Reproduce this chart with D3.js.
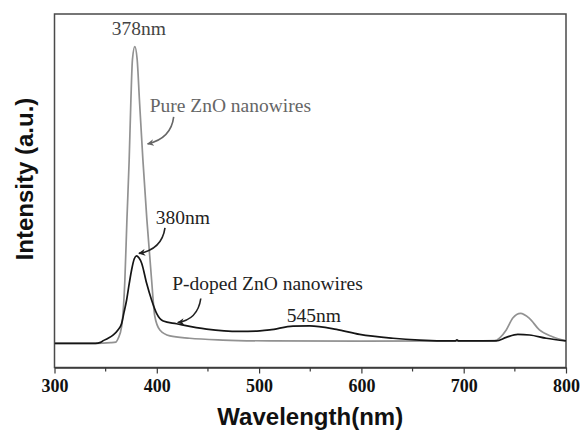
<!DOCTYPE html>
<html>
<head>
<meta charset="utf-8">
<script src="https://cdn.jsdelivr.net/npm/d3@7"></script>
<style>
  body { margin: 0; background: #fff; }
  svg { display: block; }
</style>
</head>
<body>
<svg id="pl_chart" width="580" height="430"></svg>
<script>
// spectra (intensity in a.u., baseline = 0, pure peak = 1)
const pureWl = [300, 340, 355, 360, 362.3, 365.6, 367.2, 368.8, 370.8, 373, 374.7, 376.2, 378.5,
    380.8, 383, 386.4, 390.3, 394.9, 398, 403, 412.8, 432, 464.5, 510, 600, 700, 730,
    741.6, 748, 755.6, 764, 774, 786.8, 800];
const pureI = [0, 0, 0.002, 0.004, 0.017, 0.056, 0.112, 0.214, 0.417, 0.619, 0.822, 0.957, 1.0,
    0.957, 0.822, 0.619, 0.417, 0.214, 0.092, 0.045, 0.025, 0.017, 0.011, 0.008, 0.007, 0.008, 0.009,
    0.045, 0.085, 0.101, 0.085, 0.045, 0.022, 0.008];

const dopedWl = [300, 340, 345, 347.7, 352, 357.5, 362, 365.6, 368, 370.5, 373, 375.4, 378, 380.2,
    382.5, 385.2, 390, 394.9, 399.8, 406.3, 419.3, 448.6, 481, 500.7, 510.4, 533.2, 549.5,
    575.6, 598.3, 630.9, 656.9, 689.5, 692, 693.4, 695, 731.8, 741.6, 752.9, 764.4, 780.7, 800];
const dopedI = [0, 0, 0.003, 0.009, 0.016, 0.028, 0.045, 0.067, 0.105, 0.146, 0.2, 0.248, 0.285, 0.295,
    0.288, 0.27, 0.203, 0.146, 0.101, 0.075, 0.066, 0.048, 0.04, 0.042, 0.045, 0.058, 0.059,
    0.047, 0.030, 0.017, 0.011, 0.008, 0.008, 0.012, 0.008, 0.008, 0.02, 0.03, 0.028, 0.017, 0.008];

const xMajor = [300, 400, 500, 600, 700, 800];
const xMinor = [350, 450, 550, 650, 750];

// annotations: [text, wavelength, intensity, colour]
const labels = [
    ["378nm", 356, 1.04, "#444"],
    ["Pure ZnO nanowires", 393, 0.779, "#666"],
    ["380nm", 399, 0.402, "#222"],
    ["P-doped ZnO nanowires", 415, 0.18, "#222"],
    ["545nm", 527, 0.073, "#222"]
];
// arrows: start, control, end (wl, intensity)
const arrows = [
    [[416.5, 0.763], [414, 0.69], [391, 0.672], "#666"],
    [[408, 0.389], [405, 0.316], [382.5, 0.303], "#222"],
    [[443, 0.151], [440, 0.08], [420.5, 0.07], "#222"]
];

const svg = d3.select("#pl_chart");
const margin = {top: 14, right: 14, bottom: 62.5, left: 54.5};
const width = 580 - margin.left - margin.right,
    height = 430 - margin.top - margin.bottom;

const x = d3.scaleLinear().domain([300, 800]).range([0, width]);
const y = d3.scaleLinear().domain([-0.0816, 1.110]).range([height, 0]);

const g = svg.append("g").attr("transform", `translate(${margin.left},${margin.top})`);

svg.append("defs").append("marker")
    .attr("id", "head")
    .attr("viewBox", "0 0 10 10")
    .attr("refX", 9).attr("refY", 5)
    .attr("markerWidth", 7).attr("markerHeight", 7)
    .attr("markerUnits", "userSpaceOnUse")
    .attr("orient", "auto")
    .append("path")
    .attr("d", "M0,0L10,5L0,10L3,5Z")
    .attr("fill", "context-stroke");

// frame
g.append("rect")
    .attr("x", 0).attr("y", 0)
    .attr("width", width).attr("height", height)
    .attr("fill", "none")
    .attr("stroke", "#4a4a4a")
    .attr("stroke-width", 1.5);

// x axis
const gx = g.append("g").attr("transform", `translate(0,${height})`);
gx.call(d3.axisBottom(x).tickValues(xMajor).tickSize(6).tickSizeOuter(0).tickPadding(6))
    .call(a => a.select(".domain").attr("stroke", "#3a3a3a").attr("stroke-width", 1.5))
    .call(a => a.selectAll(".tick line").attr("stroke", "#3a3a3a").attr("stroke-width", 1.2))
    .selectAll("text")
    .attr("fill", "#111")
    .attr("font-family", "'Liberation Serif', 'Times New Roman', serif")
    .attr("font-weight", "bold")
    .attr("font-size", 18);
gx.selectAll(".minor")
    .data(xMinor)
    .join("line")
    .attr("class", "minor")
    .attr("x1", d => x(d)).attr("x2", d => x(d))
    .attr("y1", 0).attr("y2", 4)
    .attr("stroke", "#3a3a3a")
    .attr("stroke-width", 1.2);

// axis titles
svg.append("text")
    .attr("x", margin.left + width / 2)
    .attr("y", 425)
    .attr("text-anchor", "middle")
    .attr("font-family", "'Liberation Sans', Arial, sans-serif")
    .attr("font-weight", "bold")
    .attr("font-size", 24)
    .attr("fill", "#111")
    .text("Wavelength(nm)");
svg.append("text")
    .attr("transform", "translate(33,179) rotate(-90)")
    .attr("text-anchor", "middle")
    .attr("font-family", "'Liberation Sans', Arial, sans-serif")
    .attr("font-weight", "bold")
    .attr("font-size", 24)
    .attr("fill", "#111")
    .text("Intensity (a.u.)");

// spectra
const line = d3.line()
    .x(d => x(d[0]))
    .y(d => y(d[1]))
    .curve(d3.curveMonotoneX);

g.append("path")
    .datum(d3.zip(pureWl, pureI))
    .attr("d", line)
    .attr("fill", "none")
    .attr("stroke", "#929292")
    .attr("stroke-width", 1.7);
g.append("path")
    .datum(d3.zip(dopedWl, dopedI))
    .attr("d", line)
    .attr("fill", "none")
    .attr("stroke", "#151515")
    .attr("stroke-width", 1.7);

// labels and arrows
g.selectAll(".lbl")
    .data(labels)
    .join("text")
    .attr("class", "lbl")
    .attr("x", d => x(d[1]))
    .attr("y", d => y(d[2]))
    .attr("fill", d => d[3])
    .attr("font-family", "'Liberation Serif', 'Times New Roman', serif")
    .attr("font-size", 19.5)
    .text(d => d[0]);

g.selectAll(".arr")
    .data(arrows)
    .join("path")
    .attr("class", "arr")
    .attr("d", d => {
        const p = d3.path();
        p.moveTo(x(d[0][0]), y(d[0][1]));
        p.quadraticCurveTo(x(d[1][0]), y(d[1][1]), x(d[2][0]), y(d[2][1]));
        return p.toString();
    })
    .attr("fill", "none")
    .attr("stroke", d => d[3])
    .attr("stroke-width", 1.6)
    .attr("marker-end", "url(#head)");
</script>
</body>
</html>
